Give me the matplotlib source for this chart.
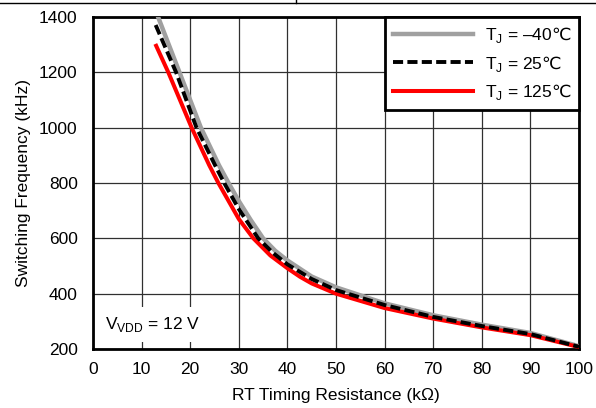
import matplotlib
matplotlib.use('Agg')
import matplotlib.pyplot as plt
from matplotlib.lines import Line2D

plt.rcParams['font.family'] = ['Liberation Sans', 'DejaVu Sans']
plt.rcParams['mathtext.fontset'] = 'custom'
plt.rcParams['mathtext.rm'] = 'Liberation Sans'
plt.rcParams['mathtext.sf'] = 'DejaVu Sans'

# RT timing resistance (kOhm) vs switching frequency (kHz)
rt_m40 = [13.4, 17.8, 22.2, 25.9, 27.9, 30, 32.5, 35, 37.5, 40, 45, 50, 60, 70, 80, 90, 100]
fsw_m40 = [1400, 1200, 1000, 865, 800, 735, 665, 600, 555, 520, 462, 423, 365, 322, 288, 258, 210]

rt_25 = [12.9, 17.1, 21.3, 25.1, 27.0, 30, 34, 37, 40, 45, 50, 60, 70, 80, 90, 100]
fsw_25 = [1371, 1200, 1000, 865, 800, 706, 600, 548, 506, 453, 413, 359, 316, 283, 254, 208]

rt_125 = [13.0, 15.5, 20.3, 23.9, 25.8, 30, 33, 36.5, 40, 42.6, 45, 50, 60, 70, 80, 90, 100]
fsw_125 = [1296, 1200, 1000, 865, 800, 670, 600, 538, 492, 461, 437, 400, 348, 310, 278, 250, 207]

labels = ['T$_\\mathregular{J}$ = \u201340$\\mathsf{\u2103}$',
          'T$_\\mathregular{J}$ = 25$\\mathsf{\u2103}$',
          'T$_\\mathregular{J}$ = 125$\\mathsf{\u2103}$']

fig = plt.figure(figsize=(5.96, 4.08), dpi=100)
ax = fig.add_axes([0.156, 0.1446, 0.8155, 0.8137])

ax.plot(rt_m40, fsw_m40, color='#a0a0a0', lw=3.2, label=labels[0], zorder=3)
ax.plot(rt_25, fsw_25, color='black', lw=2.8, ls=(0, (2.6, 1.1)), label=labels[1], zorder=4)
ax.plot(rt_125, fsw_125, color='#ff0000', lw=2.9, label=labels[2], zorder=3)

ax.set_xlim(0, 100)
ax.set_ylim(200, 1400)
ax.set_xticks(range(0, 101, 10))
ax.set_yticks(range(200, 1401, 200))
ax.tick_params(length=0, labelsize=12.5)
ax.tick_params(axis='y', pad=11)
ax.tick_params(axis='x', pad=9)
ax.grid(True, color='#303030', lw=0.9)
ax.set_axisbelow(True)
for s in ax.spines.values():
    s.set_linewidth(2)

ax.set_xlabel('RT Timing Resistance (k\u03a9)', fontsize=12.5, labelpad=8)
ax.set_ylabel('Switching Frequency (kHz)', fontsize=12.5, labelpad=6)

leg = ax.legend(loc='upper right', fontsize=12.5, handlelength=4.6,
                borderaxespad=0, fancybox=False, framealpha=1,
                edgecolor='black', labelspacing=0.5, borderpad=0.45,
                handletextpad=0.7)
leg.get_frame().set_linewidth(2)

ax.text(0.025, 0.045, 'V$_\\mathregular{VDD}$ = 12 V', transform=ax.transAxes,
        fontsize=12.5, ha='left', va='bottom', zorder=5,
        bbox=dict(facecolor='white', edgecolor='none', pad=6))

fig.add_artist(Line2D([0, 1], [0.9927, 0.9927], color='black', lw=1))
fig.add_artist(Line2D([0.4966, 0.4966], [0.9927, 1], color='black', lw=1))

plt.savefig('out.png', dpi=100)
